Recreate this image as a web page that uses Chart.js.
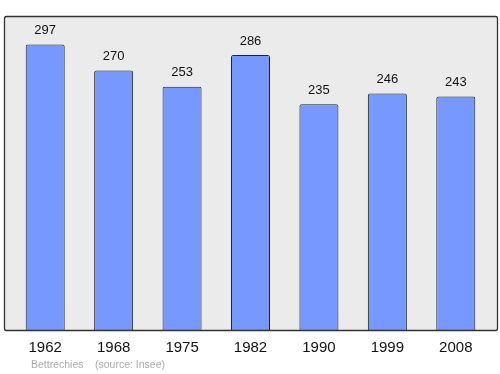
<!DOCTYPE html>
<html>
<head>
<meta charset="utf-8">
<script src="https://cdn.jsdelivr.net/npm/chart.js@4/dist/chart.umd.min.js"></script>
<style>
  html, body { margin: 0; padding: 0; background: #fff; }
  #wrap { width: 500px; height: 374px; }
</style>
</head>
<body>
<div id="wrap"><canvas id="chart"></canvas></div>
<script>
// population by census year
const years = ["1962", "1968", "1975", "1982", "1990", "1999", "2008"];
const population = [297, 270, 253, 286, 235, 246, 243];
const placeName = "Bettrechies";
const sourceNote = "(source: Insee)";

const FONT = "'Liberation Sans', Arial, sans-serif";

// grey plot box behind the bars
const frame = {
    id: "frame",
    beforeDatasetsDraw(chart) {
        const { ctx, chartArea: a } = chart;
        const x0 = a.left - 6.5, x1 = a.right + 7.5;
        const y0 = a.top + 0.5, y1 = a.bottom + 0.5;
        ctx.save();
        ctx.fillStyle = "#ebebeb";
        ctx.fillRect(x0, y0, x1 - x0, y1 - y0);
        ctx.restore();
    },
    afterDatasetsDraw(chart) {
        const { ctx, chartArea: a } = chart;
        const x0 = a.left - 6.5, x1 = a.right + 7.5;
        const y0 = a.top + 0.5, y1 = a.bottom + 0.5;
        ctx.save();
        ctx.strokeStyle = "#333";
        ctx.lineWidth = 1.3;
        ctx.beginPath();
        ctx.roundRect(x0, y0, x1 - x0, y1 - y0, 2);
        ctx.stroke();

        // value on top of each bar
        const meta = chart.getDatasetMeta(0);
        ctx.fillStyle = "#111";
        ctx.font = "13px " + FONT;
        ctx.textAlign = "center";
        ctx.textBaseline = "middle";
        meta.data.forEach((bar, i) => {
            ctx.fillText(String(population[i]), bar.x, bar.y - 14);
        });

        // footer
        ctx.fillStyle = "#aaa";
        ctx.font = "10.5px " + FONT;
        ctx.textAlign = "left";
        ctx.fillText(placeName, 31, 365);
        ctx.fillText(sourceNote, 95, 365);
        ctx.restore();
    }
};

new Chart(document.getElementById("chart"), {
    type: "bar",
    data: {
        labels: years,
        datasets: [{
            data: population,
            backgroundColor: "#7799ff",
            borderColor: "#222",
            borderWidth: 1,
            borderSkipped: "bottom",
            borderRadius: 2,
            barPercentage: 0.57,
            categoryPercentage: 1
        }]
    },
    options: {
        responsive: true,
        maintainAspectRatio: false,
        animation: false,
        layout: { padding: { left: 11, right: 10, top: 16, bottom: 8 } },
        plugins: {
            legend: { display: false },
            tooltip: { enabled: false }
        },
        scales: {
            x: {
                grid: { display: false, drawTicks: false },
                border: { display: false },
                ticks: { color: "#111", font: { family: FONT, size: 15 }, padding: 9 }
            },
            y: {
                display: false,
                min: 0,
                max: 326.7
            }
        }
    },
    plugins: [frame]
});
</script>
</body>
</html>
